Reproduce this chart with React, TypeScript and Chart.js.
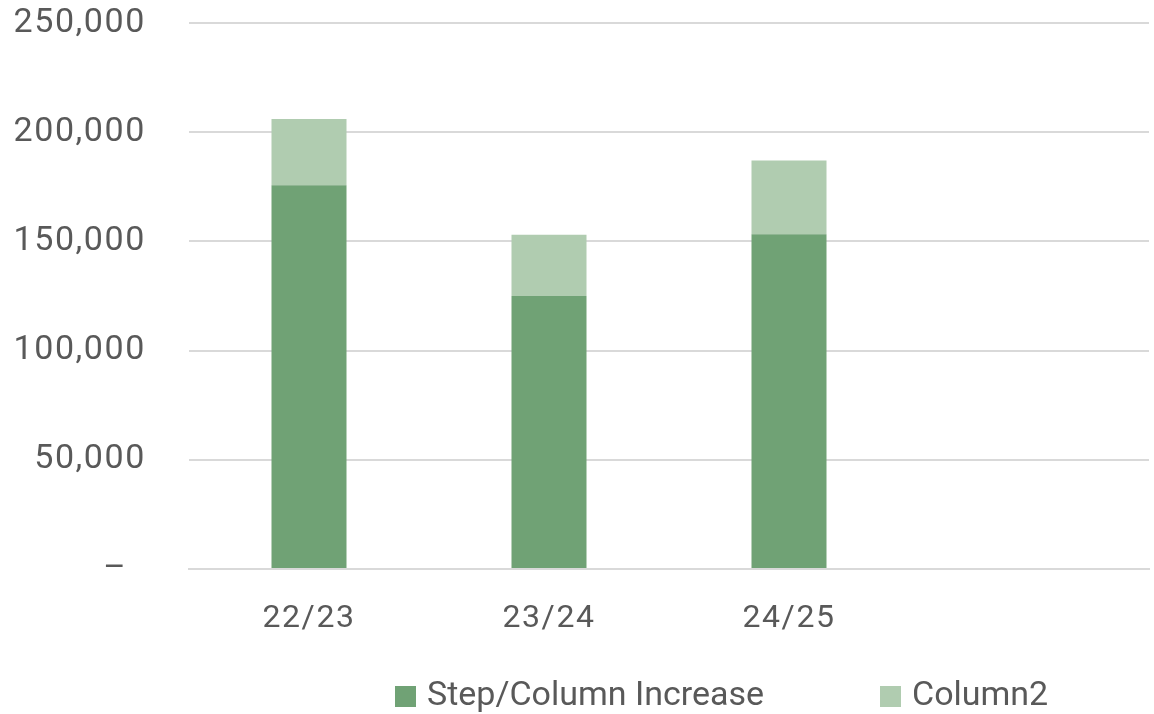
import React, { useEffect, useRef } from "react";
import { Chart, registerables } from "chart.js";

Chart.register(...registerables);

const categories = ["22/23", "23/24", "24/25", ""];
const stepIncrease = [175700, 125000, 153300, null];
const column2 = [30300, 28000, 33700, null];
const yTicks = [0, 50000, 100000, 150000, 200000, 250000];
const seriesNames = ["Step/Column Increase", "Column2"];
const seriesColors = ["#70A275", "#B0CCB0"];

const FONT = "Roboto, 'Noto Sans', sans-serif";
const TEXT = "#595959";
const SPACING = "1.6px";

const spacingPlugin = {
  id: "letterSpacing",
  beforeUpdate(chart: any) {
    (chart.ctx as any).letterSpacing = SPACING;
  },
  beforeDraw(chart: any) {
    (chart.ctx as any).letterSpacing = SPACING;
  },
};

export default function App() {
  const ref = useRef<HTMLCanvasElement>(null);
  useEffect(() => {
    document.body.style.margin = "0";
    const ctx = ref.current!.getContext("2d")!;
    (ctx as any).letterSpacing = SPACING;
    const chart = new Chart(ctx, {
      type: "bar",
      data: {
        labels: categories,
        datasets: [
          {
            label: seriesNames[0],
            data: stepIncrease as any,
            backgroundColor: seriesColors[0],
            categoryPercentage: 1,
            barPercentage: 0.3125,
          },
          {
            label: seriesNames[1],
            data: column2 as any,
            backgroundColor: seriesColors[1],
            categoryPercentage: 1,
            barPercentage: 0.3125,
          },
        ],
      },
      plugins: [spacingPlugin],
      options: {
        animation: false,
        responsive: false,
        maintainAspectRatio: false,
        layout: { padding: { top: 23, right: 5, bottom: 65, left: 0 } },
        plugins: {
          legend: { display: false },
          tooltip: { enabled: false },
        },
        scales: {
          x: {
            stacked: true,
            grid: { display: false, drawTicks: false },
            border: { display: true, color: "#D9D9D9", width: 2 },
            ticks: {
              color: TEXT,
              font: { family: FONT, size: 32 },
              padding: 31,
              maxRotation: 0,
            },
            afterFit: (s: any) => {
              s.height = 80;
              s.paddingLeft = 0;
              s.paddingRight = 0;
            },
          },
          y: {
            stacked: true,
            min: 0,
            max: 250000,
            afterBuildTicks: (s: any) => {
              s.ticks = yTicks.map((v) => ({ value: v }));
            },
            grid: { color: "#D9D9D9", lineWidth: 2, drawTicks: false },
            border: { display: false },
            ticks: {
              color: TEXT,
              font: { family: FONT, size: 34 },
              padding: 43,
              callback: (v: any) =>
                Number(v) === 0 ? "–\u2002" : Number(v).toLocaleString("en-US"),
            },
            afterFit: (s: any) => {
              s.width = 189;
              s.paddingTop = 0;
              s.paddingBottom = 0;
            },
          },
        },
      },
    });
    return () => chart.destroy();
  }, []);

  const textStyle: React.CSSProperties = {
    position: "absolute",
    top: 676,
    fontFamily: FONT,
    fontSize: 34,
    lineHeight: "34px",
    color: TEXT,
    whiteSpace: "nowrap",
  };
  const boxStyle = (c: string, left: number): React.CSSProperties => ({
    position: "absolute",
    top: 686,
    left,
    width: 21,
    height: 21,
    background: c,
  });

  return (
    <div style={{ position: "relative", width: 1154, height: 714 }}>
      <canvas ref={ref} width={1154} height={714} style={{ display: "block" }} />
      <div style={boxStyle(seriesColors[0], 395)} />
      <div style={{ ...textStyle, left: 427 }}>{seriesNames[0]}</div>
      <div style={boxStyle(seriesColors[1], 880)} />
      <div style={{ ...textStyle, left: 912 }}>{seriesNames[1]}</div>
    </div>
  );
}
